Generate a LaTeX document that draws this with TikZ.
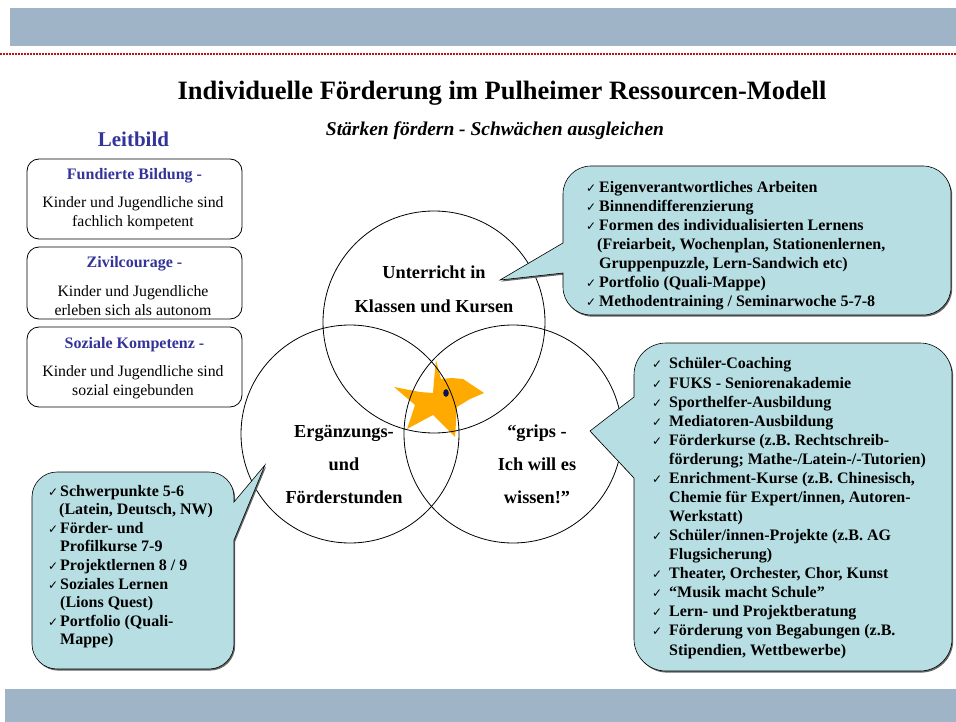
\documentclass[tikz,border=0pt]{standalone}
\usepackage{fontspec}
\setmainfont{Liberation Serif}
\newfontfamily\dejavu{DejaVu Sans}
\definecolor{bandcol}{RGB}{160,180,200}
\definecolor{callcol}{RGB}{183,223,227}
\definecolor{leitblue}{RGB}{51,51,153}
\definecolor{dotred}{RGB}{190,20,20}
\definecolor{starorange}{RGB}{255,170,0}
\definecolor{dotnavy}{RGB}{10,20,80}
\newcommand{\ckm}[1]{\makebox[#1][l]{\dejavu\fontsize{12}{12}\selectfont ✓}}
\newcommand{\TopCallPath}{(500,280) -- (563,243) -- (563,194) .. controls (563,178.5) and (575.5,166) .. (591,166) -- (923,166) .. controls (938.5,166) and (951,178.5) .. (951,194) -- (951,287) .. controls (951,302.5) and (938.5,315) .. (923,315) -- (591,315) .. controls (575.5,315) and (563,302.5) .. (563,287) -- (563,273) -- cycle}
\newcommand{\LeftCallPath}{(265,465) -- (234,540) -- (234,644) .. controls (234,657.8) and (222.8,669) .. (209,669) -- (57,669) .. controls (43.2,669) and (32,657.8) .. (32,644) -- (32,497) .. controls (32,483.2) and (43.2,472) .. (57,472) -- (209,472) .. controls (222.8,472) and (234,483.2) .. (234,497) -- (234,502) -- cycle}
\newcommand{\RightCallPath}{(590,431) -- (634,397) -- (634,375) .. controls (634,357.3) and (648.3,343) .. (666,343) -- (920,343) .. controls (937.7,343) and (952,357.3) .. (952,375) -- (952,639) .. controls (952,656.7) and (937.7,671) .. (920,671) -- (666,671) .. controls (648.3,671) and (634,656.7) .. (634,639) -- (634,478) -- cycle}
\begin{document}
\begin{tikzpicture}[x=1pt,y=-1pt,
  leitbox/.style={draw=black, line width=0.8pt, rounded corners=12pt, minimum width=215pt, inner sep=0pt},
  leithead/.style={font=\fontsize{16}{19}\selectfont\bfseries, text=leitblue, anchor=base, inner sep=0pt},
  leittext/.style={font=\fontsize{15.8}{19}\selectfont, align=center, anchor=base, inner sep=0pt},
  ring/.style={circle, draw=black, line width=0.8pt, inner sep=0pt},
  ringtext/.style={font=\fontsize{18.3}{33}\selectfont\bfseries, align=center, anchor=base, inner sep=0pt},
  callfill/.style={fill=callcol, draw=black, line width=0.6pt},
  callshadow/.style={fill=black!60},
  calltext/.style={font=\fontsize{16}{19}\selectfont\bfseries, align=left, anchor=base west, inner sep=0pt},
]
\path[use as bounding box] (0,0) rectangle (956,722);
% bands
\fill[bandcol] (10,8) rectangle (956,46);
\fill[bandcol] (5,689) rectangle (956,722);
\draw[dotred, line width=1.6pt, dash pattern=on 1.5pt off 1.5pt] (0,54) -- (956,54);
% titles
\node[anchor=base, inner sep=0pt, font=\fontsize{26.5}{30}\selectfont\bfseries] (title) at (502,100) {Individuelle Förderung im Pulheimer Ressourcen-Modell};
\node[anchor=base, inner sep=0pt, font=\fontsize{19.5}{22}\selectfont\bfseries\itshape] (subtitle) at (495,136) {Stärken fördern - Schwächen ausgleichen};
\node[anchor=base, inner sep=0pt, font=\fontsize{21}{24}\selectfont\bfseries, text=leitblue] (leitbild) at (133.5,147) {Leitbild};
% Leitbild boxes
\node[leitbox, minimum height=80pt] (box1) at (134.5,199) {};
\node[leitbox, minimum height=72pt] (box2) at (134.5,283) {};
\node[leitbox, minimum height=80pt] (box3) at (134.5,367) {};
\node[leithead] (h1) at (134.5,180) {Fundierte Bildung -};
\node[leittext] (t1) at (133,227) {Kinder und Jugendliche sind\\fachlich kompetent};
\node[leithead] (h2) at (134.5,268) {Zivilcourage -};
\node[leittext] (t2) at (133,315.5) {Kinder und Jugendliche\\erleben sich als autonom};
\node[leithead] (h3) at (134.5,348) {Soziale Kompetenz -};
\node[leittext] (t3) at (133,395) {Kinder und Jugendliche sind\\sozial eingebunden};
% star
\fill[starorange] (436,360) -- (441,379) -- (452,378) -- (463,379) -- (484,393) -- (470,399) -- (457,407) -- (455,437) -- (433,415) -- (407,429) -- (415,405) -- (394,387) -- (420,392) -- (433,393) -- (434,380) -- cycle;
\fill[dotnavy] (446,393) ellipse (2.8 and 3.8);
% circles
\node[ring, minimum size=222pt] (ctop) at (434,322) {};
\node[ring, minimum size=218pt] (cleft) at (350,434) {};
\node[ring, minimum size=218pt] (cright) at (513,434) {};
\node[ringtext] (ttop) at (434,312) {Unterricht in\\Klassen und Kursen};
\node[ringtext] (tleft) at (344,503) {Ergänzungs-\\und\\Förderstunden};
\node[ringtext] (tright) at (537,503) {“grips -\\Ich will es\\wissen!”};
% callouts
\fill[callshadow, shift={(1.2,1.6)}] \TopCallPath;
\draw[callfill] \TopCallPath;
\fill[callshadow, shift={(1.2,1.6)}] \LeftCallPath;
\draw[callfill] \LeftCallPath;
\fill[callshadow, shift={(1.2,1.6)}] \RightCallPath;
\draw[callfill] \RightCallPath;
\node[calltext] (ltop) at (586,306) {\ckm{13pt}Eigenverantwortliches Arbeiten\\
\ckm{13pt}Binnendifferenzierung\\
\ckm{13pt}Formen des individualisierten Lernens\\
\hspace*{11pt}(Freiarbeit, Wochenplan, Stationenlernen,\\
\hspace*{13pt}Gruppenpuzzle, Lern-Sandwich etc)\\
\ckm{13pt}Portfolio (Quali-Mappe)\\
\ckm{13pt}Methodentraining / Seminarwoche 5-7-8};
\node[calltext, font=\fontsize{16}{18.6}\selectfont\bfseries] (lleft) at (48,644.8) {\ckm{12pt}Schwerpunkte 5-6\\
\hspace*{11pt}(Latein, Deutsch, NW)\\
\ckm{12pt}Förder- und\\
\hspace*{12pt}Profilkurse 7-9\\
\ckm{12pt}Projektlernen 8 / 9\\
\ckm{12pt}Soziales Lernen\\
\hspace*{12pt}(Lions Quest)\\
\ckm{12pt}Portfolio (Quali-\\
\hspace*{12pt}Mappe)};
\node[calltext, font=\fontsize{16}{19.07}\selectfont\bfseries] (lright) at (652,655) {\ckm{17pt}Schüler-Coaching\\
\ckm{17pt}FUKS - Seniorenakademie\\
\ckm{17pt}Sporthelfer-Ausbildung\\
\ckm{17pt}Mediatoren-Ausbildung\\
\ckm{17pt}Förderkurse (z.B. Rechtschreib-\\
\hspace*{17pt}förderung; Mathe-/Latein-/-Tutorien)\\
\ckm{17pt}Enrichment-Kurse (z.B. Chinesisch,\\
\hspace*{17pt}Chemie für Expert/innen, Autoren-\\
\hspace*{17pt}Werkstatt)\\
\ckm{17pt}Schüler/innen-Projekte (z.B. AG\\
\hspace*{17pt}Flugsicherung)\\
\ckm{17pt}Theater, Orchester, Chor, Kunst\\
\ckm{17pt}“Musik macht Schule”\\
\ckm{17pt}Lern- und Projektberatung\\
\ckm{17pt}Förderung von Begabungen (z.B.\\
\hspace*{17pt}Stipendien, Wettbewerbe)};
\end{tikzpicture}
\end{document}
